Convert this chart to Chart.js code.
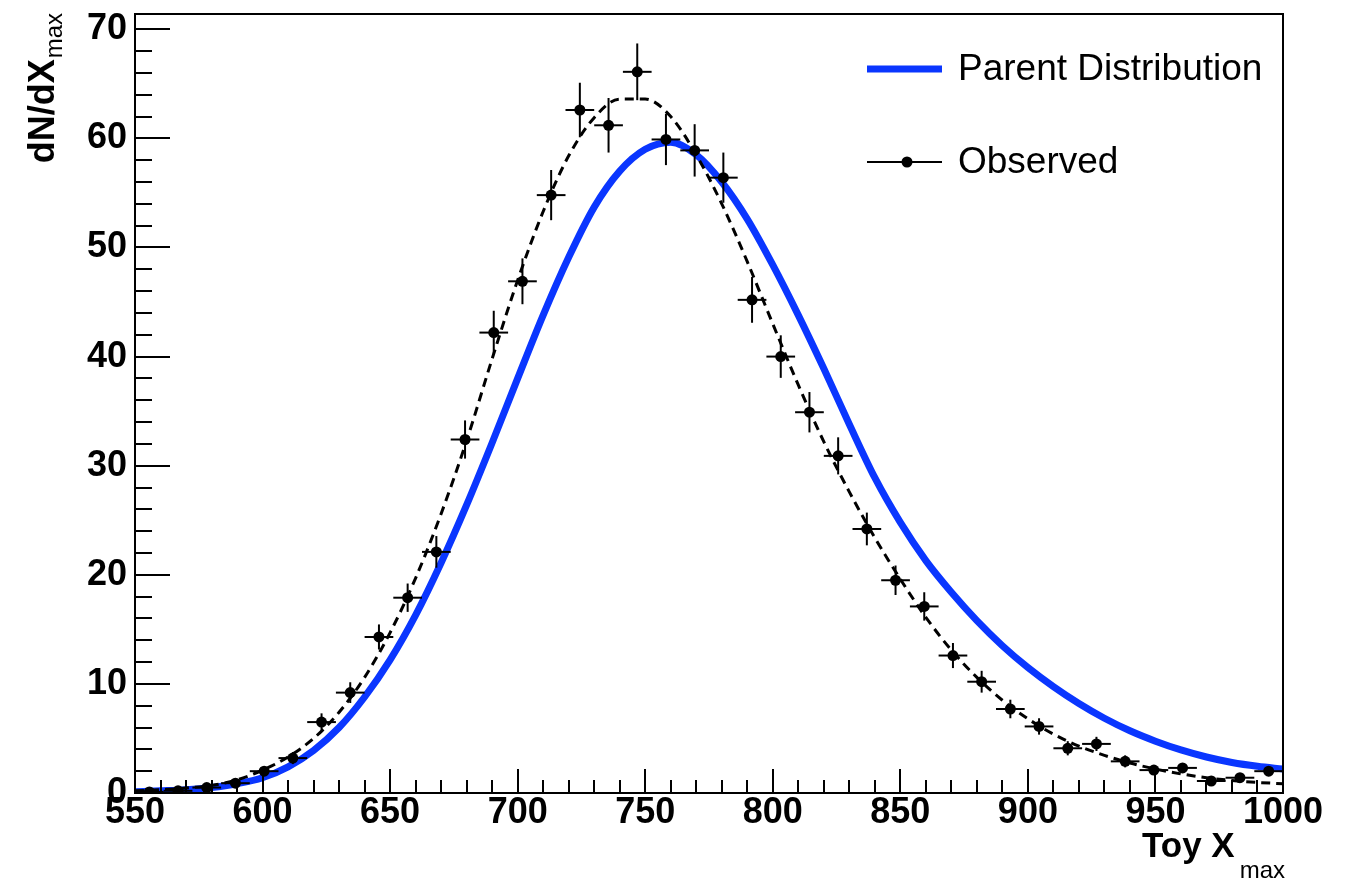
<!DOCTYPE html>
<html><head><meta charset="utf-8">
<script src="https://cdn.jsdelivr.net/npm/chart.js@4.4.1/dist/chart.umd.min.js"></script>
<style>html,body{margin:0;padding:0;background:#fff;}canvas{display:block;}</style>
</head><body>
<canvas id="c" width="1356" height="882"></canvas>
<script>
// ---- Data ----
const binCenters = [555.625, 566.875, 578.125, 589.375, 600.625, 611.875, 623.125, 634.375, 645.625, 656.875,
  668.125, 679.375, 690.625, 701.875, 713.125, 724.375, 735.625, 746.875, 758.125, 769.375,
  780.625, 791.875, 803.125, 814.375, 825.625, 836.875, 848.125, 859.375, 870.625, 881.875,
  893.125, 904.375, 915.625, 926.875, 938.125, 949.375, 960.625, 971.875, 983.125, 994.375];
const binHalfWidth = 5.625;
const observedValues = [0.1, 0.2, 0.5, 0.9, 2.0, 3.2, 6.5, 9.2, 14.3, 17.9,
  22.1, 32.4, 42.2, 46.9, 54.8, 62.6, 61.2, 66.1, 59.9, 58.9,
  56.4, 45.2, 40.0, 34.9, 30.9, 24.2, 19.5, 17.1, 12.6, 10.2,
  7.7, 6.1, 4.1, 4.5, 2.9, 2.1, 2.3, 1.1, 1.4, 2.0];
const observedErrors = [0.1, 0.15, 0.2, 0.3, 0.45, 0.55, 0.8, 0.95, 1.15, 1.3,
  1.45, 1.75, 2.0, 2.1, 2.3, 2.5, 2.5, 2.6, 2.35, 2.4,
  2.3, 2.1, 1.95, 1.85, 1.7, 1.5, 1.35, 1.3, 1.15, 1.0,
  0.85, 0.75, 0.65, 0.65, 0.55, 0.45, 0.45, 0.35, 0.35, 0.45];
const curveX = [550, 560, 570, 580, 590, 600, 610, 620, 630, 640, 650, 660, 670, 680, 690, 700,
  710, 720, 730, 740, 750, 760, 770, 780, 790, 800, 810, 820, 830, 840, 850, 860, 870, 880,
  890, 900, 910, 920, 930, 940, 950, 960, 970, 980, 990, 1000];
const parentValues = [0.12, 0.2, 0.3, 0.5, 0.85, 1.4, 2.4, 3.9, 6.0, 8.8, 12.2, 16.3, 21.1, 26.4, 32.1, 38.0,
  43.8, 49.1, 53.7, 57.0, 59.0, 59.65, 58.5, 56.0, 52.6, 48.4, 43.8, 38.9, 33.8, 28.9, 24.8, 21.3, 18.4, 15.8,
  13.5, 11.5, 9.75, 8.2, 6.85, 5.7, 4.75, 3.95, 3.3, 2.8, 2.45, 2.2];
const fitValues = [0.2, 0.3, 0.45, 0.7, 1.2, 2.1, 3.3, 5.0, 7.4, 10.6, 14.7, 19.7, 25.6, 32.3, 39.8, 47.0,
  53.3, 58.4, 61.9, 63.6, 63.6, 62.0, 58.5, 54.0, 48.7, 43.0, 37.4, 32.2, 27.6, 23.4, 19.6, 16.1, 13.1, 10.6,
  8.5, 6.8, 5.4, 4.3, 3.45, 2.75, 2.2, 1.75, 1.4, 1.15, 0.97, 0.85];
const xTickValues = [550, 600, 650, 700, 750, 800, 850, 900, 950, 1000];
const yTickValues = [0, 10, 20, 30, 40, 50, 60, 70];
const legendLabels = ['Parent Distribution', 'Observed'];
const xTitle = ['Toy X', 'max'];
const yTitle = ['dN/dX', 'max'];

const BLUE = '#0a36ff';
const FONT = '"Liberation Sans", Arial, Helvetica, sans-serif';

const observedPoints = binCenters.map((x, i) => ({x: x, y: observedValues[i]}));
const parentPoints = curveX.map((x, i) => ({x: x, y: parentValues[i]}));
const fitPoints = curveX.map((x, i) => ({x: x, y: fitValues[i]}));

function line(ctx, x1, y1, x2, y2) { ctx.beginPath(); ctx.moveTo(x1, y1); ctx.lineTo(x2, y2); ctx.stroke(); }

const errorBars = {
  id: 'errorBars',
  afterDatasetsDraw(chart) {
    const {ctx, scales: {x, y}} = chart;
    ctx.save();
    ctx.strokeStyle = '#000'; ctx.lineWidth = 2;
    binCenters.forEach((c, i) => {
      const px = x.getPixelForValue(c), py = y.getPixelForValue(observedValues[i]);
      line(ctx, x.getPixelForValue(c - binHalfWidth), py, x.getPixelForValue(c + binHalfWidth), py);
      line(ctx, px, y.getPixelForValue(observedValues[i] - observedErrors[i]), px, y.getPixelForValue(observedValues[i] + observedErrors[i]));
    });
    ctx.restore();
  }
};

const frameTicks = {
  id: 'frameTicks',
  afterDraw(chart) {
    const {ctx, chartArea: a, scales: {x, y}} = chart;
    ctx.save();
    ctx.strokeStyle = '#000'; ctx.lineWidth = 2;
    for (let v = 550; v <= 1000; v += 10) {
      const px = Math.round(x.getPixelForValue(v));
      line(ctx, px, a.bottom, px, a.bottom - (v % 50 === 0 ? 24 : 13));
    }
    for (let v = 0; v <= 70; v += 2) {
      const py = Math.round(y.getPixelForValue(v));
      line(ctx, a.left, py, a.left + (v % 10 === 0 ? 35 : 17), py);
    }
    ctx.strokeRect(a.left, a.top, a.right - a.left, a.bottom - a.top);

    // axis titles
    ctx.fillStyle = '#000';
    ctx.textBaseline = 'alphabetic';
    ctx.font = '24px ' + FONT;
    const wsx = ctx.measureText(xTitle[1]).width;
    ctx.textAlign = 'right';
    ctx.fillText(xTitle[1], 1285, 878);
    ctx.font = 'bold 35px ' + FONT;
    ctx.fillText(xTitle[0], 1285 - wsx - 5, 857);
    ctx.save();
    ctx.rotate(-Math.PI / 2);
    ctx.font = '24px ' + FONT;
    const wsy = ctx.measureText(yTitle[1]).width;
    ctx.textAlign = 'right';
    ctx.fillText(yTitle[1], -13, 62);
    ctx.font = 'bold 36px ' + FONT;
    ctx.fillText(yTitle[0], -13 - wsy - 1, 54);
    ctx.restore();

    // legend
    ctx.textAlign = 'left';
    ctx.textBaseline = 'middle';
    ctx.font = '37px ' + FONT;
    ctx.strokeStyle = BLUE; ctx.lineWidth = 7;
    line(ctx, 867, 69, 942, 69);
    ctx.fillText(legendLabels[0], 958, 70);
    ctx.strokeStyle = '#000'; ctx.lineWidth = 2;
    line(ctx, 867, 162, 942, 162);
    ctx.beginPath(); ctx.arc(907, 162, 5.5, 0, Math.PI * 2); ctx.fill();
    ctx.fillText(legendLabels[1], 958, 163);
    ctx.restore();
  }
};

const tickFont = {family: FONT, size: 36, weight: 'bold', lineHeight: 1};

new Chart(document.getElementById('c'), {
  type: 'scatter',
  data: {
    datasets: [
      {label: legendLabels[1], data: observedPoints, showLine: false, pointRadius: 5.5, pointHoverRadius: 5.5,
       pointBackgroundColor: '#000', pointBorderColor: '#000', pointBorderWidth: 0, order: 0},
      {label: 'Fit', type: 'line', data: fitPoints, borderColor: '#000', borderWidth: 3, borderDash: [9, 6],
       pointRadius: 0, fill: false, cubicInterpolationMode: 'monotone', order: 1},
      {label: legendLabels[0], type: 'line', data: parentPoints, borderColor: BLUE, borderWidth: 7,
       pointRadius: 0, fill: false, cubicInterpolationMode: 'monotone', order: 2}
    ]
  },
  options: {
    responsive: false, animation: false, devicePixelRatio: 1,
    layout: {padding: {top: 14, right: 73, left: 0, bottom: 0}},
    plugins: {legend: {display: false}, tooltip: {enabled: false}},
    scales: {
      x: {type: 'linear', min: 550, max: 1000,
          afterBuildTicks: s => { s.ticks = xTickValues.map(v => ({value: v})); },
          afterFit: s => { s.height = 89; s.paddingLeft = 0; s.paddingRight = 0; },
          grid: {display: false, drawTicks: false}, border: {display: false},
          ticks: {font: tickFont, color: '#000', padding: 2, maxRotation: 0, autoSkip: false,
                  callback: v => String(v)}},
      y: {type: 'linear', min: 0, max: 71.4,
          afterBuildTicks: s => { s.ticks = yTickValues.map(v => ({value: v})); },
          afterFit: s => { s.width = 135; s.paddingTop = 0; s.paddingBottom = 0; },
          grid: {display: false, drawTicks: false}, border: {display: false},
          ticks: {font: tickFont, color: '#000', padding: 8, callback: v => String(v)}}
    }
  },
  plugins: [errorBars, frameTicks]
});
</script>
</body></html>
